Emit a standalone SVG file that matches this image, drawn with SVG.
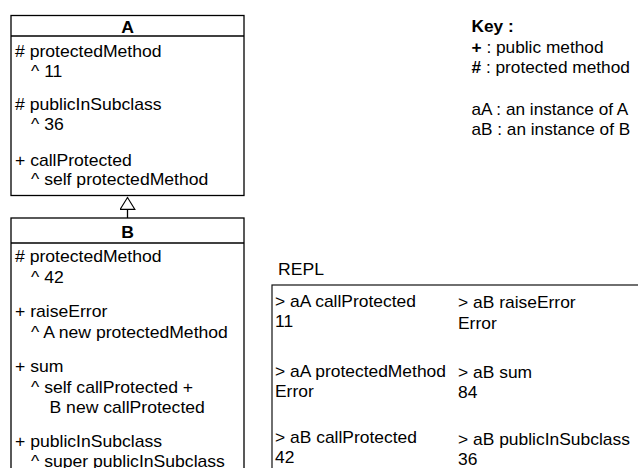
<svg xmlns="http://www.w3.org/2000/svg" width="638" height="468" viewBox="0 0 638 468">
<style>
text{font-family:"Liberation Sans",Arial,Helvetica,sans-serif;font-size:16px;fill:#000}
.b{font-weight:bold}
.hdr{font-weight:bold;text-anchor:middle}
.box{fill:#fff;stroke:#000;stroke-width:1.3}
.ln{stroke:#000;stroke-width:1.3;fill:none}
.repl{fill:#fff;stroke:#111;stroke-width:1.2}
</style>
<defs>
<marker id="tri" markerUnits="userSpaceOnUse" markerWidth="16" markerHeight="18" refX="12.5" refY="8" orient="auto">
<path d="M0.6,0.6 L12.5,8 L0.6,15.4 Z" fill="#fff" stroke="#000" stroke-width="1.1"/>
</marker>
</defs>
<rect width="638" height="468" fill="#fff"/>

<g id="connectors">
<line class="ln" x1="127.5" y1="218" x2="127.5" y2="197.5" marker-end="url(#tri)"/>
</g>

<g id="classA">
<rect class="box" x="11" y="15.5" width="233" height="180"/>
<line class="ln" x1="11" y1="36" x2="244" y2="36"/>
<text class="hdr" transform="translate(127.5,32.5) scale(1.1,1)">A</text>
<text transform="translate(15,57) scale(1.1,1)"># protectedMethod</text>
<text transform="translate(31,76.5) scale(1.1,1)">^ 11</text>
<text transform="translate(15,110) scale(1.1,1)"># publicInSubclass</text>
<text transform="translate(31,129.5) scale(1.1,1)">^ 36</text>
<text transform="translate(15,165.5) scale(1.1,1)">+ callProtected</text>
<text transform="translate(31,185) scale(1.1,1)">^ self protectedMethod</text>
</g>

<g id="classB">
<rect class="box" x="11" y="218" width="233" height="270"/>
<line class="ln" x1="11" y1="243" x2="244" y2="243"/>
<text class="hdr" transform="translate(127.5,237.5) scale(1.1,1)">B</text>
<text transform="translate(15,262) scale(1.1,1)"># protectedMethod</text>
<text transform="translate(31,283) scale(1.1,1)">^ 42</text>
<text transform="translate(15,316.5) scale(1.1,1)">+ raiseError</text>
<text transform="translate(31,338) scale(1.1,1)">^ A new protectedMethod</text>
<text transform="translate(15,371.5) scale(1.1,1)">+ sum</text>
<text transform="translate(31,393) scale(1.1,1)">^ self callProtected +</text>
<text transform="translate(49.5,413) scale(1.1,1)">B new callProtected</text>
<text transform="translate(15,446.5) scale(1.1,1)">+ publicInSubclass</text>
<text transform="translate(31,466.5) scale(1.1,1)">^ super publicInSubclass</text>
</g>

<g id="key">
<text class="b" transform="translate(471.5,32) scale(1.08,1)">Key :</text>
<text transform="translate(471.5,53.3) scale(1.08,1)"><tspan class="b">+</tspan> : public method</text>
<text transform="translate(471.5,73.3) scale(1.08,1)"><tspan class="b">#</tspan> : protected method</text>
<text transform="translate(471.5,115) scale(1.075,1)">aA : an instance of A</text>
<text transform="translate(471.5,135) scale(1.075,1)">aB : an instance of B</text>
</g>

<g id="repl">
<text transform="translate(278,274.5) scale(1.1,1)">REPL</text>
<rect class="repl" x="272" y="285" width="380" height="200"/>
<text transform="translate(275,306.7) scale(1.09,1)">&gt; aA callProtected</text>
<text transform="translate(275,327.3) scale(1.09,1)">11</text>
<text transform="translate(275,376.7) scale(1.09,1)">&gt; aA protectedMethod</text>
<text transform="translate(275,396.7) scale(1.09,1)">Error</text>
<text transform="translate(275,443.3) scale(1.09,1)">&gt; aB callProtected</text>
<text transform="translate(275,463.3) scale(1.09,1)">42</text>
<text transform="translate(458,308) scale(1.09,1)">&gt; aB raiseError</text>
<text transform="translate(458,329.3) scale(1.09,1)">Error</text>
<text transform="translate(458,378.3) scale(1.09,1)">&gt; aB sum</text>
<text transform="translate(458,398.3) scale(1.09,1)">84</text>
<text transform="translate(458,445) scale(1.09,1)">&gt; aB publicInSubclass</text>
<text transform="translate(458,465) scale(1.09,1)">36</text>
</g>
</svg>
